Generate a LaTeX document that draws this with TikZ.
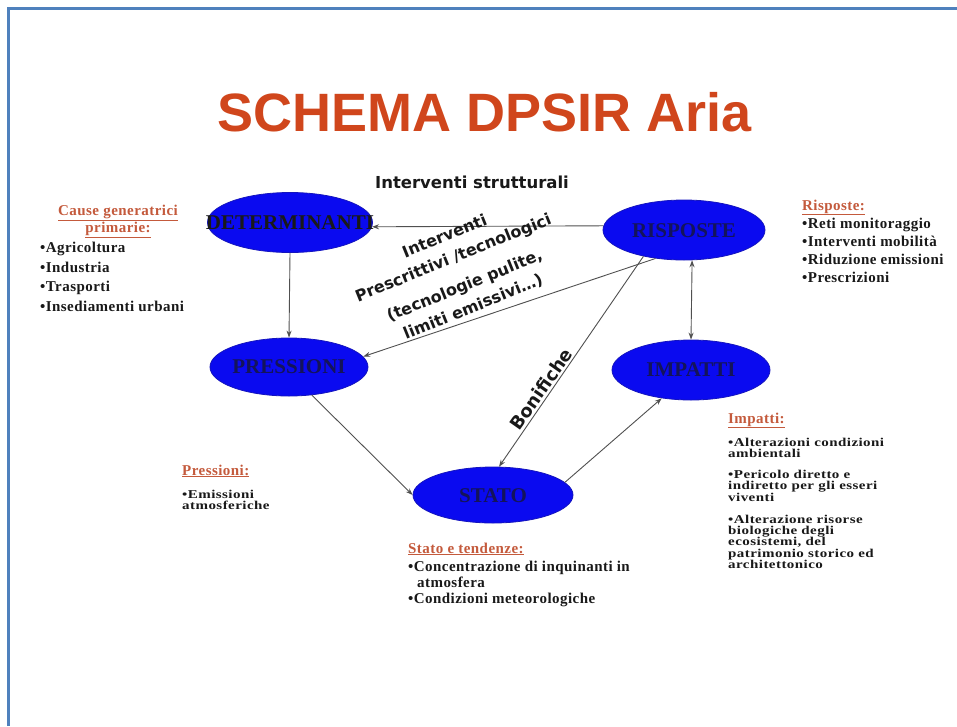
\documentclass[tikz,border=0pt]{standalone}
\usepackage{fontspec}
\setmainfont{Liberation Serif}
\newfontfamily\bodyf{Liberation Serif}[LetterSpace=3]
\newfontfamily\dvs{DejaVu Sans}
\newfontfamily\lsans{Liberation Sans}
\usetikzlibrary{shapes.geometric,arrows.meta}
\definecolor{frameblue}{RGB}{79,129,189}
\definecolor{titlered}{RGB}{208,70,28}
\definecolor{headorange}{RGB}{196,90,60}
\definecolor{ellblue}{RGB}{10,10,240}
\definecolor{ellborder}{RGB}{20,20,190}
\definecolor{navy}{RGB}{20,20,90}
\definecolor{txt}{RGB}{25,25,25}
\definecolor{conn}{RGB}{80,80,80}
\newcommand{\squish}[1]{\scalebox{1}[0.8]{#1}}
\begin{document}
\begin{tikzpicture}[x=1pt,y=-1pt,
  ell/.style={ellipse, fill=ellblue, draw=ellborder, line width=0.8pt, inner sep=0pt},
  elab/.style={font=\bfseries\fontsize{21}{21}\selectfont, text=navy, inner sep=0pt},
  arr/.style={draw=conn, line width=0.9pt, -{Stealth[length=7pt,width=5pt]}},
  darr/.style={draw=conn, line width=0.9pt, {Stealth[length=7pt,width=5pt]}-{Stealth[length=7pt,width=5pt]}},
  head/.style={font=\bodyf\bfseries\fontsize{15}{17}\selectfont, text=headorange, inner sep=0pt},
  body/.style={font=\bodyf\bfseries\fontsize{15}{17}\selectfont, text=txt, anchor=base west, inner sep=0pt},
  rot/.style={font=\dvs\bfseries\fontsize{16}{23}\selectfont, text=txt, inner sep=0pt, align=center}
]
\useasboundingbox (0,0) rectangle (957,726);
\fill[white] (0,0) rectangle (957,726);
\draw[frameblue, line width=3pt] (8.5,726) -- (8.5,8.5) -- (957,8.5);

% title
\node[font=\lsans\bfseries\fontsize{54}{60}\selectfont, text=titlered] (title) at (485,112) {SCHEMA DPSIR Aria};
\node[font=\dvs\bfseries\fontsize{16.5}{18}\selectfont, text=txt] (istr) at (472,182) {Interventi strutturali};

% ellipses
\node[ell, minimum width=165, minimum height=60] (det) at (290,222.5) {};
\node[ell, minimum width=162, minimum height=60] (ris) at (684,230) {};
\node[ell, minimum width=158, minimum height=58] (pre) at (289,367) {};
\node[ell, minimum width=158, minimum height=60] (imp) at (691,370) {};
\node[ell, minimum width=160, minimum height=56] (sta) at (493,495) {};

% connectors
\draw[arr] (ris.177) -- (det.357);
\draw[arr] (det.south) -- (pre.north);
\draw[arr] (ris.225) -- (pre.8);
\draw[arr] (ris.213) -- (sta.78);
\draw[arr] (pre.-51) -- (sta.west);
\draw[arr] (sta.10) -- (imp.224);
\draw[darr] (ris.-75) -- (imp.north);

% ellipse labels
\node[elab, text=black!90] (detl) at (290,223) {DETERMINANTI};
\node[elab] (risl) at (684,231) {RISPOSTE};
\node[elab] (prel) at (289,367) {PRESSIONI};
\node[elab] (impl) at (691,370) {IMPATTI};
\node[elab] (stal) at (493,496) {STATO};

% rotated labels
\node[rot, rotate=22] (ipr) at (459,272) {Interventi\\Prescrittivi /tecnologici\\[7pt](tecnologie pulite,\\limiti emissivi…)};
\node[rot, font=\dvs\bfseries\fontsize{18}{20}\selectfont, rotate=55] (bon) at (541,389) {Bonifiche};

% Cause generatrici
\node[head, align=center] (hcause) at (118,221) {\underline{Cause generatrici}\\\underline{primarie:}};
\node[body] (c1) at (40,252) {•Agricoltura};
\node[body] (c2) at (40,272) {•Industria};
\node[body] (c3) at (40,291) {•Trasporti};
\node[body] (c4) at (40,311) {•Insediamenti urbani};

% Risposte
\node[head, anchor=base west] (hris) at (802,210) {\underline{Risposte:}};
\node[body] (r1) at (802,228) {•Reti monitoraggio};
\node[body] (r2) at (802,246) {•Interventi mobilità};
\node[body] (r3) at (802,264) {•Riduzione emissioni};
\node[body] (r4) at (802,282) {•Prescrizioni};

% Pressioni
\node[head, anchor=base west] (hpre) at (182,475) {\underline{Pressioni:}};
\node[body] (p1) at (182,498) {\squish{•Emissioni}};
\node[body] (p2) at (182,509) {\squish{atmosferiche}};

% Stato
\node[head, anchor=base west] (hsta) at (408,553) {\underline{Stato e tendenze:}};
\node[body] (s1) at (408,571) {•Concentrazione di inquinanti in};
\node[body] (s2) at (417,587) {atmosfera};
\node[body] (s3) at (408,603) {•Condizioni meteorologiche};

% Impatti
\node[head, anchor=base west] (himp) at (728,423) {\underline{Impatti:}};
\node[body] (i1) at (728,446) {\squish{•Alterazioni condizioni}};
\node[body] (i2) at (728,457) {\squish{ambientali}};
\node[body] (i3) at (728,478) {\squish{•Pericolo diretto e}};
\node[body] (i4) at (728,489.5) {\squish{indiretto per gli esseri}};
\node[body] (i5) at (728,501) {\squish{viventi}};
\node[body] (i6) at (728,523) {\squish{•Alterazione risorse}};
\node[body] (i7) at (728,534) {\squish{biologiche degli}};
\node[body] (i8) at (728,545.5) {\squish{ecosistemi, del}};
\node[body] (i9) at (728,557) {\squish{patrimonio storico ed}};
\node[body] (i10) at (728,568) {\squish{architettonico}};
\end{tikzpicture}
\end{document}
